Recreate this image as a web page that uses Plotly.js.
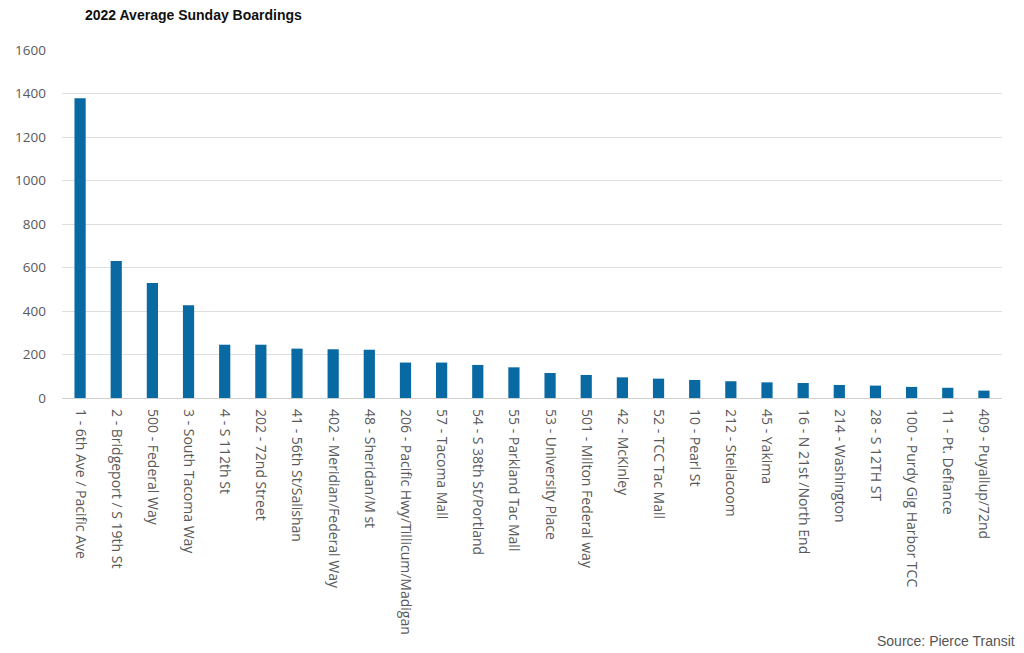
<!DOCTYPE html>
<html>
<head>
<meta charset="utf-8">
<script src="https://cdn.plot.ly/plotly-3.0.1.min.js"></script>
<style>html,body{margin:0;padding:0;background:#fff;}#chart{width:1024px;height:653px;}</style>
</head>
<body>
<div id="chart"></div>
<script>
const routes = [
  "1 - 6th Ave / Pacific Ave", "2 - Bridgeport / S 19th St", "500 - Federal Way", "3 - South Tacoma Way",
  "4 - S 112th St", "202 - 72nd Street", "41 - 56th St/Salishan", "402 - Meridian/Federal Way",
  "48 - Sheridan/M st", "206 - Pacific Hwy/Tillicum/Madigan", "57 - Tacoma Mall", "54 - S 38th St/Portland",
  "55 - Parkland Tac Mall", "53 - University Place", "501 - Milton Federal way", "42 - McKinley",
  "52 - TCC Tac Mall", "10 - Pearl St", "212 - Steilacoom", "45 - Yakima", "16 - N 21st /North End",
  "214 - Washington", "28 - S 12TH ST", "100 - Purdy Gig Harbor TCC", "11 - Pt. Defiance", "409 - Puyallup/72nd"
];
const boardings = [1378, 630, 529, 427, 245, 245, 227, 224, 222, 163, 163, 152, 141, 115, 106, 95, 89, 83, 77, 72, 69, 60, 57, 51, 47, 34];
const yTicks = [0, 200, 400, 600, 800, 1000, 1200, 1400, 1600];

const data = [{
  type: 'bar',
  x: routes,
  y: boardings,
  marker: {color: '#0869a3'},
  hoverinfo: 'x+y'
}];

const layout = {
  width: 1024, height: 653,
  margin: {l: 62, r: 22, t: 50, b: 255},
  paper_bgcolor: '#fff', plot_bgcolor: '#fff',
  bargap: 0.69,
  showlegend: false,
  title: {
    text: '<b>2022 Average Sunday Boardings</b>',
    font: {family: 'Liberation Sans, Arial, sans-serif', size: 14, color: '#111'},
    xref: 'container', yref: 'container',
    x: 85/1024, xanchor: 'left', y: 1 - 15/653, yanchor: 'middle'
  },
  xaxis: {
    type: 'category',
    tickangle: 90,
    tickfont: {family: 'Open Sans, sans-serif', size: 14, color: '#595959'},
    showgrid: false, showline: false, ticks: '',
    ticklabelstandoff: 10,
    fixedrange: true
  },
  yaxis: {
    range: [0, 1600],
    tickvals: yTicks,
    ticktext: yTicks.map(String),
    tickfont: {family: 'Open Sans, sans-serif', size: 13.5, color: '#595959'},
    gridcolor: '#dedede', gridwidth: 1,
    zeroline: true, zerolinecolor: '#d0d0d0', zerolinewidth: 1,
    showline: false, ticks: '',
    ticklabelstandoff: 15,
    fixedrange: true
  },
  annotations: [{
    text: 'Source: Pierce Transit',
    xref: 'paper', yref: 'paper',
    x: (1017 - 62) / (1024 - 62 - 22), xanchor: 'right',
    y: 0, yanchor: 'middle',
    yshift: -(641 - 398),
    showarrow: false,
    font: {family: 'Liberation Sans, Arial, sans-serif', size: 14, color: '#555'}
  }]
};

Plotly.newPlot('chart', data, layout, {displayModeBar: false, staticPlot: true});
</script>
</body>
</html>
